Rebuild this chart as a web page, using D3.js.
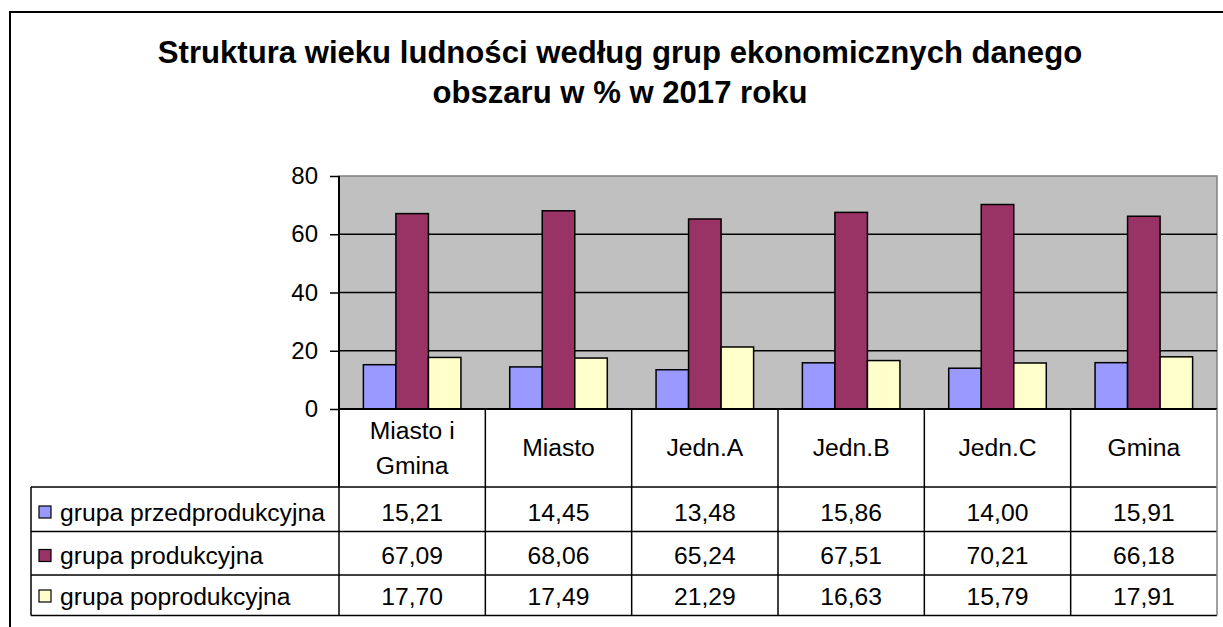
<!DOCTYPE html>
<html>
<head>
<meta charset="utf-8">
<script src="https://cdn.jsdelivr.net/npm/d3@7"></script>
<style>
  html, body { margin: 0; padding: 0; background: #fff; }
  svg { display: block; font-family: "Liberation Sans", Arial, sans-serif; }
</style>
</head>
<body>
<svg id="chart" width="1223" height="627"></svg>
<script>
// data
const categories = ["Miasto i\nGmina", "Miasto", "Jedn.A", "Jedn.B", "Jedn.C", "Gmina"];
const seriesNames = ["grupa przedprodukcyjna", "grupa produkcyjna", "grupa poprodukcyjna"];
const przed = [15.21, 14.45, 13.48, 15.86, 14.00, 15.91];
const prod = [67.09, 68.06, 65.24, 67.51, 70.21, 66.18];
const poprod = [17.70, 17.49, 21.29, 16.63, 15.79, 17.91];
const yTicks = [0, 20, 40, 60, 80];
const titleLines = ["Struktura wieku ludności według grup ekonomicznych danego", "obszaru w % w 2017 roku"];

const series = [przed, prod, poprod];
const colors = ["#9999ff", "#993366", "#ffffcc"];

const svg = d3.select("#chart");
const P = { left: 339, right: 1217, top: 176, bottom: 409 };
const T = { left: 31, rows: [487, 531.5, 575, 615.5] };
const FS = 24.7;
const fmt = v => v.toFixed(2).replace(".", ",");

// outer frame (right and bottom sit outside the picture)
svg.append("rect")
  .attr("x", 10).attr("y", 12).attr("width", 1250).attr("height", 650)
  .attr("fill", "none").attr("stroke", "#000").attr("stroke-width", 2);

// title
svg.append("g").selectAll("text").data(titleLines).join("text")
  .attr("x", 620).attr("y", (d, i) => 63 + i * 40)
  .attr("text-anchor", "middle").attr("font-size", 31.1).attr("font-weight", "bold")
  .text(d => d);

const x = d3.scaleBand().domain(categories).range([P.left, P.right]);
const xs = d3.scaleBand().domain(d3.range(series.length))
  .range([0, x.bandwidth()]).paddingOuter(0.75);
const y = d3.scaleLinear().domain([0, 80]).range([P.bottom, P.top]);

// plot area
svg.append("rect")
  .attr("x", P.left).attr("y", P.top)
  .attr("width", P.right - P.left).attr("height", P.bottom - P.top)
  .attr("fill", "#c0c0c0").attr("stroke", "#808080").attr("stroke-width", 1.5);

svg.append("g").selectAll("line").data(yTicks.slice(1, -1)).join("line")
  .attr("x1", P.left).attr("x2", P.right)
  .attr("y1", d => y(d)).attr("y2", d => y(d))
  .attr("stroke", "#000").attr("stroke-width", 1.5);

// bars
const gBars = svg.append("g");
series.forEach((vals, s) => {
  gBars.append("g").selectAll("rect").data(vals).join("rect")
    .attr("x", (d, i) => x(categories[i]) + xs(s))
    .attr("width", xs.bandwidth())
    .attr("y", d => y(d))
    .attr("height", d => y(0) - y(d))
    .attr("fill", colors[s]).attr("stroke", "#000").attr("stroke-width", 1.5);
});

// y axis
const gy = svg.append("g").attr("transform", `translate(${P.left},0)`)
  .call(d3.axisLeft(y).tickValues(yTicks).tickSize(9).tickPadding(12));
gy.select(".domain").remove();
gy.selectAll("line").attr("stroke", "#000").attr("stroke-width", 1.5);
gy.selectAll("text").attr("font-size", 24).attr("fill", "#000")
  .attr("font-family", "Liberation Sans, Arial, sans-serif");

// axis lines
svg.append("line").attr("x1", P.left).attr("x2", P.left)
  .attr("y1", P.top).attr("y2", T.rows[0])
  .attr("stroke", "#000").attr("stroke-width", 2);
svg.append("line").attr("x1", P.left).attr("x2", P.right)
  .attr("y1", P.bottom).attr("y2", P.bottom)
  .attr("stroke", "#000").attr("stroke-width", 2);

// data table
const gT = svg.append("g");
gT.selectAll("line.h").data(T.rows).join("line").attr("class", "h")
  .attr("x1", T.left).attr("x2", P.right)
  .attr("y1", d => d).attr("y2", d => d)
  .attr("stroke", "#000").attr("stroke-width", 1.5);
gT.append("line")
  .attr("x1", T.left).attr("x2", T.left).attr("y1", T.rows[0]).attr("y2", T.rows[3])
  .attr("stroke", "#000").attr("stroke-width", 1.5);
gT.selectAll("line.v").data(categories).join("line").attr("class", "v")
  .attr("x1", d => x(d) + x.bandwidth()).attr("x2", d => x(d) + x.bandwidth())
  .attr("y1", P.bottom).attr("y2", T.rows[3])
  .attr("stroke", (d, i) => i === categories.length - 1 ? "#808080" : "#000")
  .attr("stroke-width", 1.5);
gT.append("line")
  .attr("x1", P.left).attr("x2", P.left).attr("y1", T.rows[0]).attr("y2", T.rows[3])
  .attr("stroke", "#000").attr("stroke-width", 1.5);

// category headers
const headers = gT.selectAll("text.cat").data(categories).join("text").attr("class", "cat")
  .attr("text-anchor", "middle").attr("font-size", FS);
headers.each(function (d) {
  const lines = d.split("\n");
  const cx = x(d) + x.bandwidth() / 2;
  const mid = (P.bottom + T.rows[0]) / 2;
  d3.select(this).selectAll("tspan").data(lines).join("tspan")
    .attr("x", cx)
    .attr("y", (l, i) => mid + 8 + (i - (lines.length - 1) / 2) * 35)
    .text(l => l);
});

// legend rows + values
series.forEach((vals, s) => {
  const base = T.rows[s + 1] - 11;
  gT.append("rect")
    .attr("x", 39).attr("y", base - 14.5).attr("width", 12).attr("height", 12)
    .attr("fill", colors[s]).attr("stroke", "#000").attr("stroke-width", 1.2);
  gT.append("text").attr("x", 60).attr("y", base).attr("font-size", FS)
    .text(seriesNames[s]);
  gT.append("g").selectAll("text").data(vals).join("text")
    .attr("x", (d, i) => x(categories[i]) + x.bandwidth() / 2).attr("y", base)
    .attr("text-anchor", "middle").attr("font-size", FS)
    .text(d => fmt(d));
});
</script>
</body>
</html>
